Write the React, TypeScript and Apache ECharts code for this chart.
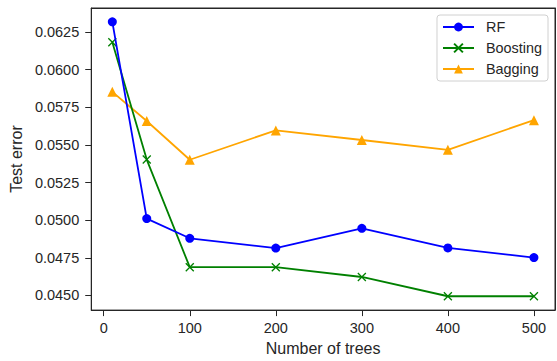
import React, { useEffect, useRef } from "react";
import * as echarts from "echarts";

const trees = [10, 50, 100, 200, 300, 400, 500];
const rfError = [0.06318, 0.05011, 0.0488, 0.04815, 0.04946, 0.04816, 0.04752];
const boostingError = [0.06182, 0.05403, 0.04688, 0.04688, 0.04623, 0.04495, 0.04495];
const baggingError = [0.05853, 0.05659, 0.05402, 0.05597, 0.05533, 0.05468, 0.05665];
const xTicks = [0, 100, 200, 300, 400, 500];
const yTicks = [0.045, 0.0475, 0.05, 0.0525, 0.055, 0.0575, 0.06, 0.0625];

const FONT = "'Liberation Sans', Arial, sans-serif";
const TEXT = "#262626";
const CROSS = "path://M0,0L10,10M10,0L0,10";
const X_MIN = -14.5;
const X_MAX = 524.5;
const Y_MIN = 0.04403;
const Y_MAX = 0.0641;

export default function App() {
  const ref = useRef<HTMLDivElement>(null);
  useEffect(() => {
    if (!ref.current) return;
    const chart = echarts.init(ref.current, undefined, { renderer: "svg" });
    const pair = (ys: number[]) => trees.map((x, i) => [x, ys[i]]);
    const frameAxis = {
      type: "value",
      axisLine: { show: true, onZero: false, lineStyle: { color: TEXT, width: 1 } },
      axisTick: { show: false },
      axisLabel: { show: false },
      splitLine: { show: false },
    };
    chart.setOption({
      animation: false,
      backgroundColor: "#ffffff",
      textStyle: { fontFamily: FONT },
      grid: { left: 89, right: 2, top: 8, bottom: 48, show: true, borderColor: TEXT, borderWidth: 1, backgroundColor: "rgba(0,0,0,0)" },
      legend: {
        right: 9,
        top: 15,
        orient: "vertical",
        backgroundColor: "#ffffff",
        borderColor: "#d0d0d0",
        borderWidth: 1,
        borderRadius: 3,
        padding: [5, 6, 5, 5],
        itemWidth: 31,
        itemHeight: 11,
        itemGap: 7,
        textStyle: { fontFamily: FONT, fontSize: 14.4, color: TEXT, lineHeight: 14, padding: [0, 0, 0, 7] },
        data: ["RF", "Boosting", "Bagging"],
      },
      xAxis: [
        {
          type: "value",
          min: X_MIN,
          max: X_MAX,
          name: "Number of trees",
          nameLocation: "middle",
          nameGap: 29,
          nameTextStyle: { fontFamily: FONT, fontSize: 16, color: TEXT },
          axisLine: { show: true, onZero: false, lineStyle: { color: TEXT, width: 1 } },
          axisTick: { show: true, length: 6, lineStyle: { color: TEXT, width: 1 }, customValues: xTicks },
          axisLabel: { fontFamily: FONT, fontSize: 14.5, color: TEXT, margin: 10, customValues: xTicks },
          splitLine: { show: false },
        },
        { ...frameAxis, position: "top", min: X_MIN, max: X_MAX },
      ],
      yAxis: [
        {
          type: "value",
          min: Y_MIN,
          max: Y_MAX,
          name: "Test error",
          nameLocation: "middle",
          nameGap: 62,
          nameTextStyle: { fontFamily: FONT, fontSize: 16, color: TEXT },
          axisLine: { show: true, onZero: false, lineStyle: { color: TEXT, width: 1 } },
          axisTick: { show: true, length: 6, lineStyle: { color: TEXT, width: 1 }, customValues: yTicks },
          axisLabel: {
            fontFamily: FONT,
            fontSize: 14.5,
            color: TEXT,
            margin: 12,
            customValues: yTicks,
            formatter: (v: number) => v.toFixed(4),
          },
          splitLine: { show: false },
        },
        { ...frameAxis, position: "right", min: Y_MIN, max: Y_MAX },
      ],
      series: [
        {
          name: "RF",
          type: "line",
          data: pair(rfError),
          symbol: "circle",
          symbolSize: 9,
          lineStyle: { color: "#0000ff", width: 1.8 },
          itemStyle: { color: "#0000ff" },
          z: 3,
        },
        {
          name: "Boosting",
          type: "line",
          data: pair(boostingError),
          symbol: CROSS,
          symbolSize: 8,
          lineStyle: { color: "#008000", width: 1.8 },
          itemStyle: { color: "#008000", borderColor: "#008000", borderWidth: 1.3 },
          z: 2,
        },
        {
          name: "Bagging",
          type: "line",
          data: pair(baggingError),
          symbol: "triangle",
          symbolSize: 10,
          lineStyle: { color: "#ffa500", width: 1.8 },
          itemStyle: { color: "#ffa500" },
          z: 1,
        },
      ],
    });
    return () => chart.dispose();
  }, []);
  return (
    <div
      ref={ref}
      style={{ position: "fixed", left: 0, top: 0, width: 557, height: 361, background: "#fff" }}
    />
  );
}
